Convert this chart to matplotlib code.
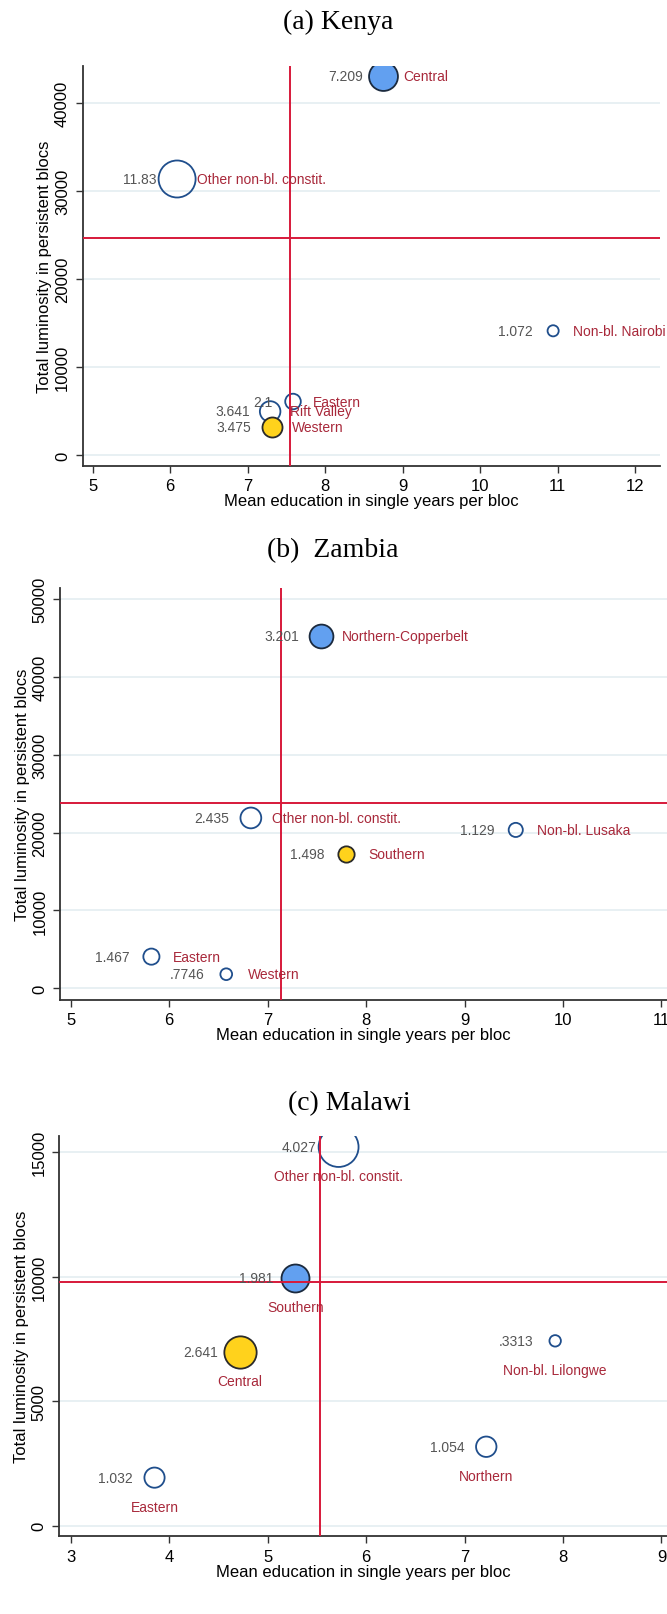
import matplotlib.pyplot as plt
import numpy as np

plt.rcParams['font.family'] = ['Liberation Sans', 'DejaVu Sans']

# (a) Kenya
kenya_names = ['Central', 'Other non-bl. constit.', 'Non-bl. Nairobi', 'Eastern', 'Rift Valley', 'Western']
kenya_educ = [8.75, 6.09, 10.94, 7.585, 7.29, 7.31]
kenya_lum = [43150, 31400, 14140, 6100, 4970, 3190]
kenya_weight = [7.209, 11.83, 1.072, 2.1, 3.641, 3.475]
kenya_group = ['first', 'none', 'none', 'none', 'none', 'second']
kenya_vline = 7.54
kenya_hline = 24690

# (b) Zambia
zambia_names = ['Northern-Copperbelt', 'Other non-bl. constit.', 'Non-bl. Lusaka', 'Southern', 'Eastern', 'Western']
zambia_educ = [7.54, 6.83, 9.52, 7.80, 5.82, 6.58]
zambia_lum = [45320, 21890, 20350, 17300, 4060, 1800]
zambia_weight = [3.201, 2.435, 1.129, 1.498, 1.467, 0.7746]
zambia_group = ['first', 'none', 'none', 'second', 'none', 'none']
zambia_vline = 7.14
zambia_hline = 23860

# (c) Malawi
malawi_names = ['Other non-bl. constit.', 'Southern', 'Central', 'Non-bl. Lilongwe', 'Northern', 'Eastern']
malawi_educ = [5.72, 5.28, 4.72, 7.92, 7.22, 3.85]
malawi_lum = [15200, 9950, 6960, 7420, 3170, 1930]
malawi_weight = [4.027, 1.981, 2.641, 0.3313, 1.054, 1.032]
malawi_group = ['none', 'first', 'second', 'none', 'none', 'none']
malawi_vline = 5.53
malawi_hline = 9780

FILL = {'first': '#62A0F0', 'second': '#FFD21C', 'none': 'none'}
EDGE = {'first': '#1B2A3E', 'second': '#2A2A2A', 'none': '#1F4E8C'}
RED = '#D7193A'
GRID = '#E6EFF2'
AXC = '#333333'
NAMEC = '#A8283A'
WC = '#555555'


def stata_fmt(w):
    s = f'{w:.4g}'
    if s.startswith('0.'):
        s = s[1:]
    return s


def panel(ax, educ, lum, weight, group, names, vline, hline, scale,
          xlim, ylim, xticks, yticks, off, below=False):
    ax.set_xlim(*xlim)
    ax.set_ylim(*ylim)
    ax.set_xticks(xticks)
    ax.set_yticks(yticks)
    ax.yaxis.grid(True, color=GRID, lw=1.3)
    ax.set_axisbelow(True)
    for i in range(len(educ)):
        ax.scatter(educ[i], lum[i], s=weight[i] * scale,
                   facecolors=FILL[group[i]], edgecolors=EDGE[group[i]],
                   linewidths=1.3, zorder=3 + i * 0.01)
        ax.annotate(stata_fmt(weight[i]), (educ[i], lum[i]), xytext=(-off, 0),
                    textcoords='offset points', ha='right', va='center',
                    fontsize=10, color=WC, zorder=5)
        if below:
            ax.annotate(names[i], (educ[i], lum[i]), xytext=(0, -21),
                        textcoords='offset points', ha='center', va='center',
                        fontsize=10, color=NAMEC, zorder=5)
        else:
            ax.annotate(names[i], (educ[i], lum[i]), xytext=(off, 0),
                        textcoords='offset points', ha='left', va='center',
                        fontsize=10, color=NAMEC, zorder=5)
    ax.axvline(vline, color=RED, lw=1.4, zorder=4)
    ax.axhline(hline, color=RED, lw=1.4, zorder=4)
    for sp in ['top', 'right']:
        ax.spines[sp].set_visible(False)
    for sp in ['left', 'bottom']:
        ax.spines[sp].set_color(AXC)
        ax.spines[sp].set_linewidth(1.3)
    ax.tick_params(axis='both', direction='out', length=5, width=1, color=AXC,
                   labelsize=12, pad=4)
    ax.tick_params(axis='y', labelrotation=90)
    for t in ax.get_yticklabels():
        t.set_va('center')
    ax.set_xlabel('Mean education in single years per bloc', fontsize=12, labelpad=0)
    ax.set_ylabel('Total luminosity in persistent blocs', fontsize=12, labelpad=2)


fig = plt.figure(figsize=(6.67, 16.15), dpi=100)

ax1 = fig.add_axes([0.1237, 0.7110, 0.866, 0.2477])
panel(ax1, kenya_educ, kenya_lum, kenya_weight, kenya_group, kenya_names,
      kenya_vline, kenya_hline, 60, (4.87, 12.32), (-1200, 44280),
      range(5, 13), range(0, 40001, 10000), 14.6)

ax2 = fig.add_axes([0.0897, 0.3804, 0.9103, 0.2547])
panel(ax2, zambia_educ, zambia_lum, zambia_weight, zambia_group, zambia_names,
      zambia_vline, zambia_hline, 92, (4.89, 11.056), (-1470, 51410),
      range(5, 12), range(0, 50001, 10000), 15.5)

ax3 = fig.add_axes([0.0885, 0.0481, 0.9115, 0.2477])
panel(ax3, malawi_educ, malawi_lum, malawi_weight, malawi_group, malawi_names,
      malawi_vline, malawi_hline, 205, (2.88, 9.056), (-425, 15630),
      range(3, 10), range(0, 15001, 5000), 15.7, below=True)

H = 1615.0
tfont = dict(family=['Liberation Serif', 'DejaVu Serif'], fontsize=20,
             ha='center', va='center')
fig.text(338 / 667, 1 - 22 / H, '(a) Kenya', **tfont)
fig.text(333 / 667, 1 - 551 / H, '(b)  Zambia', **tfont)
fig.text(349 / 667, 1 - 1104 / H, '(c) Malawi', **tfont)

fig.savefig('out.png', dpi=100)
